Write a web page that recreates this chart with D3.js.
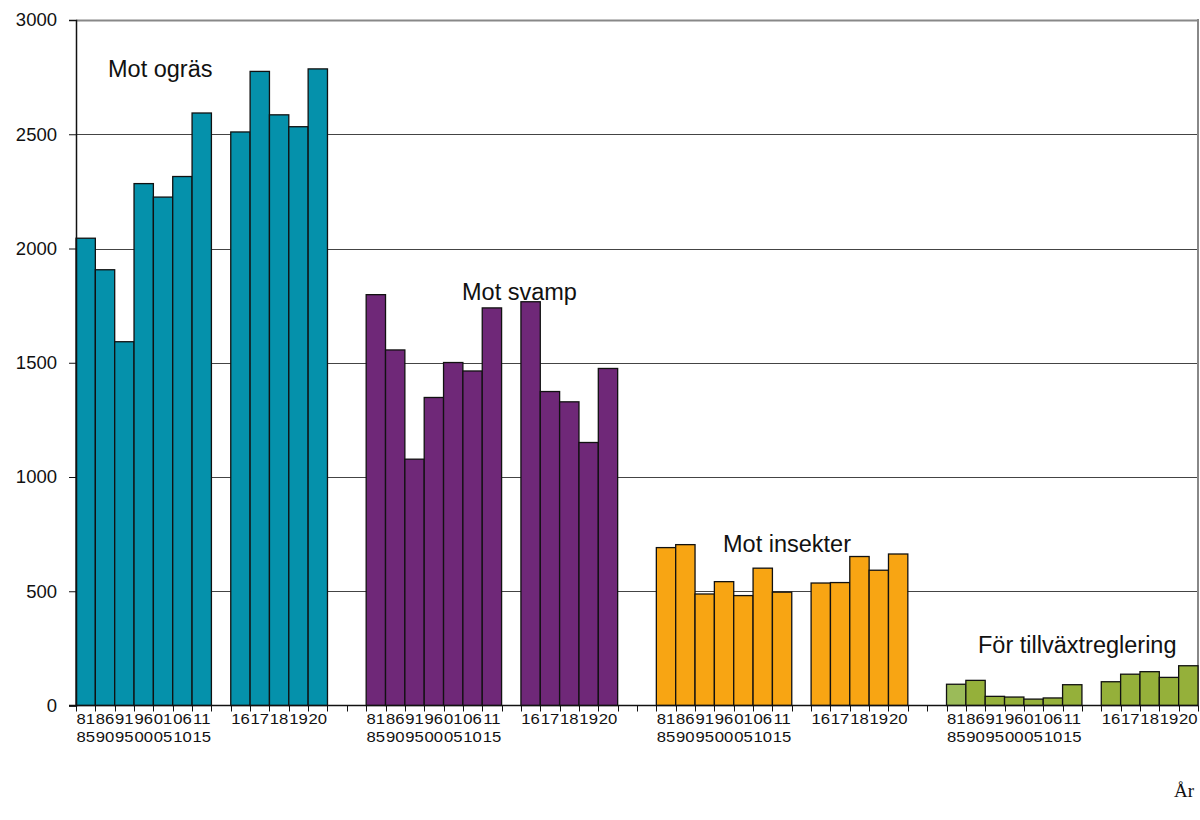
<!DOCTYPE html>
<html>
<head>
<meta charset="utf-8">
<script src="https://cdn.jsdelivr.net/npm/d3@7"></script>
<style>
body { margin: 0; background: white; }
</style>
</head>
<body>
<div id="canvas"></div>
<script>
var w = 1200;
var h = 820;

// period labels (two lines) and single-year labels
var periodTop = ["81", "86", "91", "96", "01", "06", "11"];
var periodBottom = ["85", "90", "95", "00", "05", "10", "15"];
var years = ["16", "17", "18", "19", "20"];

var groups = ["Mot ogräs", "Mot svamp", "Mot insekter", "För tillväxtreglering"];
var colors = ["#0591ab", "#6f2878", "#f8a513", "#95b03a"];

// ton active substance
var ograsPeriods = [2045, 1907, 1592, 2284, 2225, 2315, 2593];
var ograsYears = [2510, 2775, 2585, 2533, 2786];
var svampPeriods = [1798, 1556, 1078, 1348, 1501, 1464, 1740];
var svampYears = [1767, 1374, 1329, 1151, 1475];
var insektPeriods = [691, 704, 488, 542, 481, 601, 496];
var insektYears = [536, 538, 652, 592, 663];
var tillvPeriods = [93, 110, 40, 37, 28, 33, 91];
var tillvYears = [104, 137, 148, 123, 174];

var yTicks = [0, 500, 1000, 1500, 2000, 2500, 3000];

var periodVals = [ograsPeriods, svampPeriods, insektPeriods, tillvPeriods];
var yearVals = [ograsYears, svampYears, insektYears, tillvYears];

// build slots: 7 periods, gap, 5 years, 2 gaps (not after last group)
var slots = [];
var bars = [];
groups.forEach(function(g, gi){
	periodTop.forEach(function(p, i){
		var id = gi + "p" + i;
		slots.push(id);
		bars.push({slot: id, g: gi, value: periodVals[gi][i], top: p, bottom: periodBottom[i], first: i == 0});
	});
	slots.push(gi + "gap0");
	years.forEach(function(y, i){
		var id = gi + "y" + i;
		slots.push(id);
		bars.push({slot: id, g: gi, value: yearVals[gi][i], top: y, bottom: "", first: false});
	});
	if (gi < groups.length - 1) {
		slots.push(gi + "gap1");
		slots.push(gi + "gap2");
	}
});

var plotL = 76, plotR = 1198, plotT = 20, plotB = 705.5;

var svg = d3.select("#canvas").append("svg")
	.attr("width", w)
	.attr("height", h)
	.style("background-color", "white");

var xScale = d3.scaleBand()
	.domain(slots)
	.range([plotL, plotR])
	.padding(0);

var yScale = d3.scaleLinear()
	.domain([0, 3000])
	.range([plotB, plotT]);

// gridlines
svg.selectAll(".grid")
	.data(yTicks.filter(function(d){ return d > 0; }))
	.join("line")
	.attr("class", "grid")
	.attr("x1", plotL)
	.attr("x2", plotR)
	.attr("y1", function(d){ return Math.round(yScale(d)) + 0.5; })
	.attr("y2", function(d){ return Math.round(yScale(d)) + 0.5; })
	.attr("stroke", function(d){ return d == 3000 ? "#888" : "#444"; })
	.attr("stroke-width", function(d){ return d == 3000 ? 2 : 1; });

// right border of plot area
svg.append("line")
	.attr("x1", plotR)
	.attr("x2", plotR)
	.attr("y1", plotT - 1)
	.attr("y2", plotB)
	.attr("stroke", "#888")
	.attr("stroke-width", 2);

// bars
svg.selectAll(".bar")
	.data(bars)
	.join("rect")
	.attr("class", "bar")
	.attr("x", function(d){ return xScale(d.slot); })
	.attr("y", function(d){ return yScale(d.value); })
	.attr("width", xScale.bandwidth())
	.attr("height", function(d){ return yScale(0) - yScale(d.value); })
	.attr("fill", function(d){
		if (d.g == 3 && d.first) return "#9bbb59";
		return colors[d.g];
	})
	.attr("stroke", "#111")
	.attr("stroke-width", 1.3);

// y axis
var yAxis = d3.axisLeft(yScale)
	.tickValues(yTicks)
	.tickSize(7)
	.tickPadding(12)
	.tickFormat(d3.format("d"));

var yg = svg.append("g")
	.attr("transform", "translate(" + plotL + ",0)")
	.call(yAxis);
yg.select(".domain").attr("stroke", "#111").attr("stroke-width", 1.5);
yg.selectAll(".tick line").attr("stroke", "#111");
yg.selectAll(".tick text")
	.style("font-family", "Liberation Sans, Arial, sans-serif")
	.style("font-size", "18.5px")
	.attr("fill", "#111");

// x axis line with a tick at each slot boundary
svg.append("line")
	.attr("x1", plotL - 7)
	.attr("x2", plotR)
	.attr("y1", plotB)
	.attr("y2", plotB)
	.attr("stroke", "#111")
	.attr("stroke-width", 1.5);

var bounds = slots.map(function(s){ return xScale(s); }).concat([plotR]);
svg.selectAll(".xtick")
	.data(bounds)
	.join("line")
	.attr("class", "xtick")
	.attr("x1", function(d){ return Math.round(d) + 0.5; })
	.attr("x2", function(d){ return Math.round(d) + 0.5; })
	.attr("y1", plotB)
	.attr("y2", plotB + 6)
	.attr("stroke", "#111");

// category labels (a bit wide, like the original)
var labelFont = "Liberation Sans, Arial, sans-serif";
svg.selectAll(".lab1")
	.data(bars)
	.join("text")
	.attr("class", "lab1")
	.attr("transform", function(d){
		return "translate(" + (xScale(d.slot) + xScale.bandwidth() / 2) + ",724) scale(1.15,1)";
	})
	.attr("text-anchor", "middle")
	.style("font-family", labelFont)
	.style("font-size", "14.5px")
	.attr("fill", "#111")
	.text(function(d){ return d.top; });

svg.selectAll(".lab2")
	.data(bars)
	.join("text")
	.attr("class", "lab2")
	.attr("transform", function(d){
		return "translate(" + (xScale(d.slot) + xScale.bandwidth() / 2) + ",742) scale(1.15,1)";
	})
	.attr("text-anchor", "middle")
	.style("font-family", labelFont)
	.style("font-size", "14.5px")
	.attr("fill", "#111")
	.text(function(d){ return d.bottom; });

// group names
var groupLabelPos = [[108, 77], [462, 300], [723, 552], [978, 653]];
svg.selectAll(".glab")
	.data(groups)
	.join("text")
	.attr("class", "glab")
	.attr("x", function(d, i){ return groupLabelPos[i][0]; })
	.attr("y", function(d, i){ return groupLabelPos[i][1]; })
	.style("font-family", labelFont)
	.style("font-size", "23.5px")
	.attr("fill", "#111")
	.text(function(d){ return d; });

// axis title
svg.append("text")
	.attr("x", 1174)
	.attr("y", 797)
	.style("font-family", "Liberation Serif, Times New Roman, serif")
	.style("font-size", "19px")
	.attr("fill", "#111")
	.text("År");
</script>
</body>
</html>
